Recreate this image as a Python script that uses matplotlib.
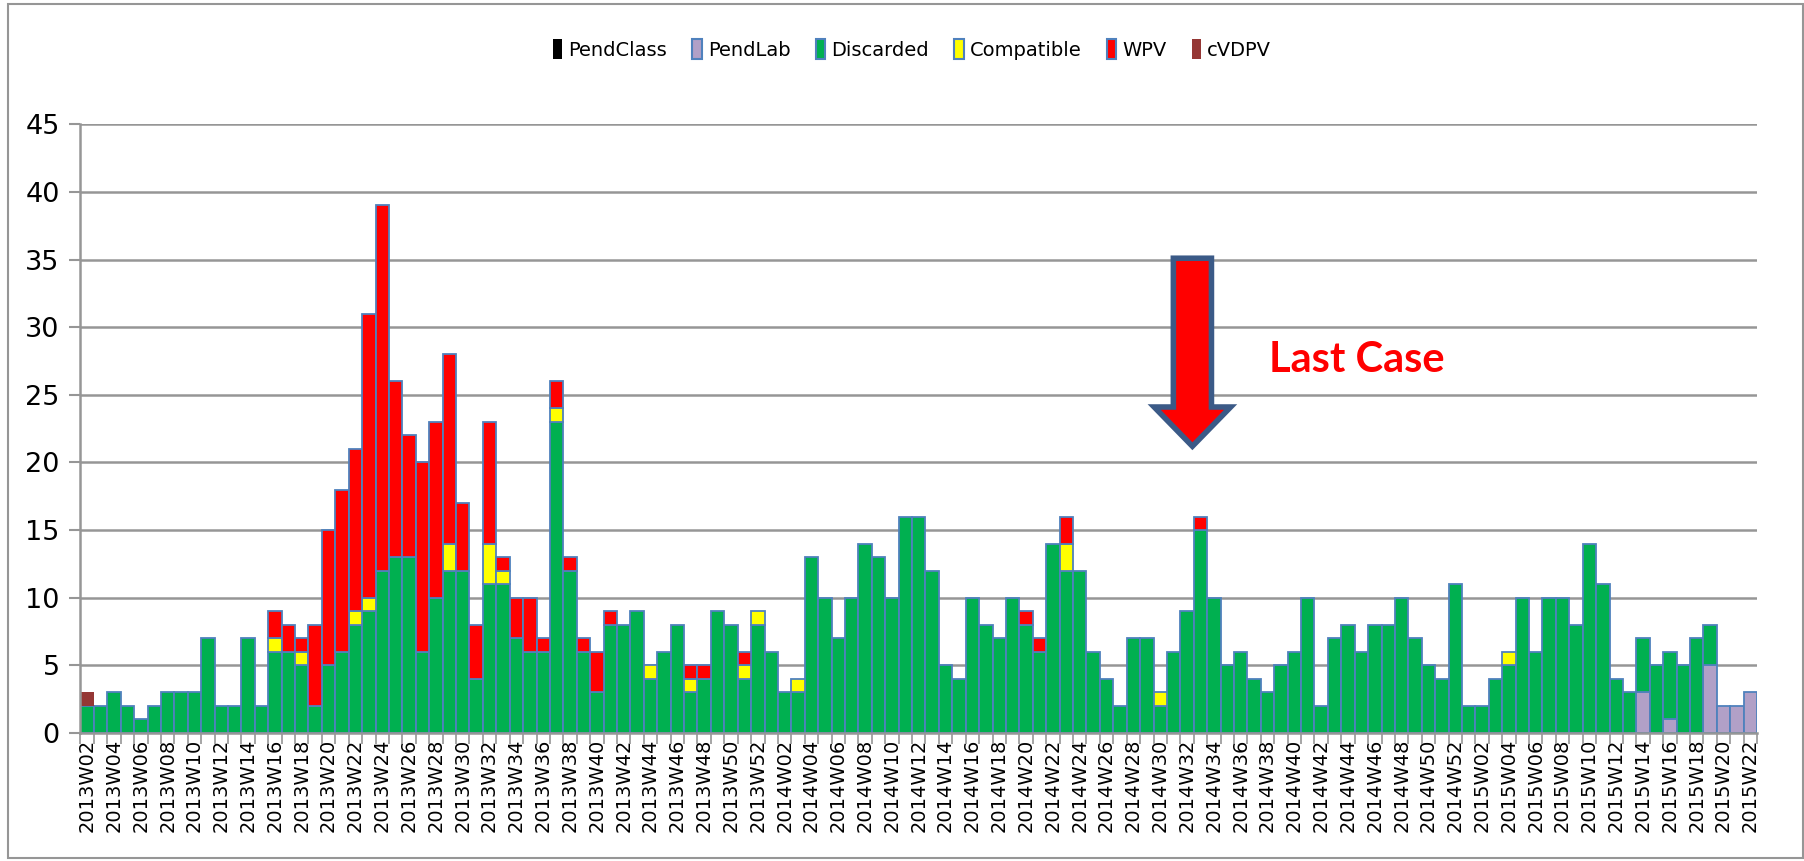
import numpy as np
import matplotlib
matplotlib.use('Agg')
import matplotlib.pyplot as plt
from matplotlib.patches import Polygon, Rectangle, Patch

# week labels, 2013W02 .. 2015W22
weeks = (['2013W%02d' % w for w in range(2, 53)]
         + ['2014W%02d' % w for w in range(1, 53)]
         + ['2015W%02d' % w for w in range(1, 23)])

# Discarded, one value per week
discarded_2013 = [2, 2, 3, 2, 1, 2, 3, 3, 3, 7, 2, 2, 7, 2, 6, 6, 5, 2, 5, 6,
                  8, 9, 12, 13, 13, 6, 10, 12, 12, 4, 11, 11, 7, 6, 6, 23, 12, 6, 3, 8,
                  8, 9, 4, 6, 8, 3, 4, 9, 8, 4, 8]
discarded_2014 = [6, 3, 3, 13, 10, 7, 10, 14, 13, 10, 16, 16, 12, 5, 4, 10, 8, 7, 10, 8,
                  6, 14, 12, 12, 6, 4, 2, 7, 7, 2, 6, 9, 15, 10, 5, 6, 4, 3, 5, 6,
                  10, 2, 7, 8, 6, 8, 8, 10, 7, 5, 4, 11]
discarded_2015 = [2, 2, 4, 5, 10, 6, 10, 10, 8, 14, 11, 4, 3, 4, 5, 5, 5, 7, 3, 0, 0, 0]

# the other categories only where non zero
pendclass = {}
pendlab = {'2015W14': 3, '2015W16': 1, '2015W19': 5, '2015W20': 2, '2015W21': 2, '2015W22': 3}
compatible = {'2013W16': 1, '2013W18': 1, '2013W22': 1, '2013W23': 1, '2013W29': 2,
              '2013W32': 3, '2013W33': 1, '2013W37': 1, '2013W44': 1, '2013W47': 1,
              '2013W51': 1, '2013W52': 1, '2014W03': 1, '2014W23': 2, '2014W30': 1,
              '2015W04': 1}
wpv = {'2013W16': 2, '2013W17': 2, '2013W18': 1, '2013W19': 6, '2013W20': 10,
       '2013W21': 12, '2013W22': 12, '2013W23': 21, '2013W24': 27, '2013W25': 13,
       '2013W26': 9, '2013W27': 14, '2013W28': 13, '2013W29': 14, '2013W30': 5,
       '2013W31': 4, '2013W32': 9, '2013W33': 1, '2013W34': 3, '2013W35': 4,
       '2013W36': 1, '2013W37': 2, '2013W38': 1, '2013W39': 1, '2013W40': 3,
       '2013W41': 1, '2013W47': 1, '2013W48': 1, '2013W51': 1,
       '2014W20': 1, '2014W21': 1, '2014W23': 2, '2014W33': 1}
cvdpv = {'2013W02': 1}

discarded = np.array(discarded_2013 + discarded_2014 + discarded_2015)

def full(d):
    return np.array([d.get(w, 0) for w in weeks])

series = [
    ('PendClass', full(pendclass), 'black', 'none'),
    ('PendLab', full(pendlab), '#B1A0C7', '#4F81BD'),
    ('Discarded', discarded, '#00B050', '#4F81BD'),
    ('Compatible', full(compatible), '#FFFF00', '#4F81BD'),
    ('WPV', full(wpv), '#FF0000', '#4F81BD'),
    ('cVDPV', full(cvdpv), '#953735', 'none'),
]

fig = plt.figure(figsize=(18.04, 8.61), dpi=100)
ax = fig.add_axes([0.0446, 0.1487, 0.9294, 0.7069])

x = np.arange(len(weeks))
bottom = np.zeros(len(weeks))
for name, vals, fc, ec in series:
    m = vals > 0
    ax.bar(x[m], vals[m], width=1.0, bottom=bottom[m], color=fc,
           edgecolor=ec, linewidth=1.3, zorder=3)
    bottom = bottom + vals

ax.set_xlim(-0.5, len(weeks) - 0.5)
ax.set_ylim(0, 45)
ax.set_yticks(range(0, 46, 5))
ax.yaxis.grid(True, color='#969696', linewidth=1.8, zorder=0)
ax.tick_params(axis='y', labelsize=19.5, length=8, color='#969696', width=1.5, pad=7)

ax.set_xticks(x[::2])
ax.set_xticklabels(weeks[::2], rotation=90, fontsize=14)
ax.set_xticks(np.arange(-0.5, len(weeks), 1), minor=True)
ax.tick_params(axis='x', which='major', length=0, pad=4)
ax.tick_params(axis='x', which='minor', length=8, color='#969696', width=1.2)

for s in ['top', 'right']:
    ax.spines[s].set_visible(False)
for s in ['left', 'bottom']:
    ax.spines[s].set_color('#969696')
    ax.spines[s].set_linewidth(1.8)
    ax.spines[s].set_zorder(4)

# "Last Case" arrow
ax_x, half_shaft, half_head = 82.4, 1.42, 2.85
arrow = Polygon([(ax_x - half_shaft, 35.1), (ax_x + half_shaft, 35.1),
                 (ax_x + half_shaft, 24.1), (ax_x + half_head, 24.1),
                 (ax_x, 21.2), (ax_x - half_head, 24.1), (ax_x - half_shaft, 24.1)],
                closed=True, facecolor='#FF0000', edgecolor='#3B5A87',
                linewidth=4, joinstyle='miter', zorder=5)
ax.add_patch(arrow)
ax.text(88.1, 27.6, 'Last Case', color='#FF0000', fontsize=30,
        fontweight='bold', family='Lato', va='center', ha='left', zorder=6)

handles = [Patch(facecolor=fc, edgecolor=ec, linewidth=1.5, label=name)
           for name, vals, fc, ec in series]
fig.legend(handles=handles, loc='center', bbox_to_anchor=(0.5055, 0.9425),
           ncol=6, frameon=False, fontsize=14, handlelength=0.5,
           handleheight=1.2, handletextpad=0.3, columnspacing=1.3)

fig.patches.append(Rectangle((8 / 1804, 3 / 861), 1795 / 1804, 854 / 861,
                             transform=fig.transFigure, fill=False,
                             edgecolor='#969696', linewidth=1.5))

fig.savefig('out.png', dpi=100)
